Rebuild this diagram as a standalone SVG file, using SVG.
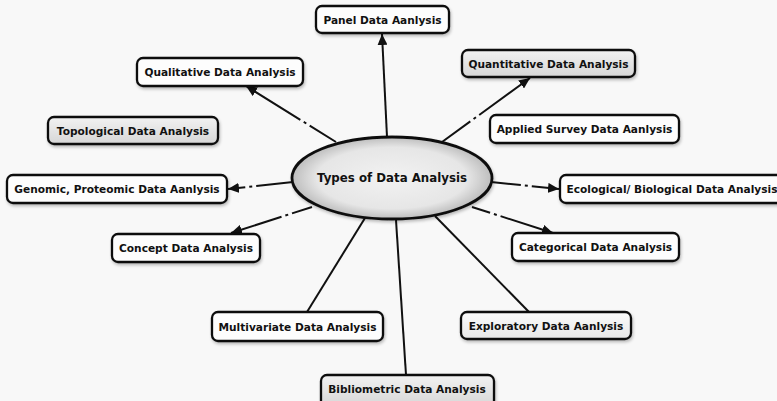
<svg xmlns="http://www.w3.org/2000/svg" width="777" height="401" viewBox="0 0 777 401">
  <defs>
    <style>
      .box { stroke: #111; stroke-width: 2.3; }
      .plain { fill: #fdfdfd; }
      .shaded { fill: url(#boxShade); }
      .light { fill: url(#boxLight); }
      .lbl { font-family: "DejaVu Sans", Verdana, sans-serif; font-weight: bold; font-size: 10.6px; fill: #111; text-anchor: middle; }
      .hub { font-size: 11.8px; }
      .link { fill: none; stroke: #111; stroke-width: 2; }
      .arrow { marker-end: url(#head); }
    </style>
    <linearGradient id="boxShade" x1="0" y1="0" x2="0" y2="1">
      <stop offset="0" stop-color="#f2f2f2"/>
      <stop offset="1" stop-color="#d6d6d6"/>
    </linearGradient>
    <linearGradient id="boxLight" x1="0" y1="0" x2="0" y2="1">
      <stop offset="0" stop-color="#fafafa"/>
      <stop offset="1" stop-color="#e8e8e8"/>
    </linearGradient>
    <radialGradient id="hubFill" cx="0.5" cy="0.5" r="0.5">
      <stop offset="0" stop-color="#f2f2f2"/>
      <stop offset="0.75" stop-color="#e6e6e6"/>
      <stop offset="1" stop-color="#bdbdbd"/>
    </radialGradient>
    <filter id="soft" x="-10%" y="-20%" width="120%" height="150%">
      <feDropShadow dx="1" dy="2" stdDeviation="1.5" flood-color="#000" flood-opacity="0.25"/>
    </filter>
    <marker id="head" markerUnits="userSpaceOnUse" markerWidth="11" markerHeight="10" refX="11" refY="5" orient="auto">
      <path d="M0,0 L11,5 L0,10 z" fill="#111"/>
    </marker>
  </defs>

  <rect width="777" height="401" fill="#f8f8f8"/>

  <!-- connectors from the central concept -->
  <g id="connectors">
    <path class="link arrow" d="M387,137 L382,34"/>
    <path class="link arrow" d="M336,142 L246,86" stroke-dasharray="31 4 3 4 300"/>
    <path class="link arrow" d="M442,142 L530,78" stroke-dasharray="35 4 3 4 300"/>
    <path class="link arrow" d="M293,182 L228,189" stroke-dasharray="37 4 3 4 300"/>
    <path class="link arrow" d="M312,207 L231,233" stroke-dasharray="21 4 3 4 300"/>
    <path class="link arrow" d="M491,182 L559,189" stroke-dasharray="30 4 3 4 300"/>
    <path class="link arrow" d="M472,207 L553,233" stroke-dasharray="19 4 3 4 300"/>
    <path class="link" d="M365,218 L307,312"/>
    <path class="link" d="M396,220 Q401,300 406,375"/>
    <path class="link" d="M435,216 L529,312"/>
  </g>

  <g id="hub">
    <ellipse cx="392" cy="178" rx="100" ry="41" fill="url(#hubFill)" stroke="#111" stroke-width="2.8" filter="url(#soft)"/>
    <text class="lbl hub" x="392" y="182">Types of Data Analysis</text>
  </g>

  <g id="panel">
    <rect class="box plain" x="316" y="6" width="133" height="27" rx="6" filter="url(#soft)"/>
    <text class="lbl" x="382.5" y="23.5">Panel Data Aanlysis</text>
  </g>
  <g id="qualitative">
    <rect class="box plain" x="137" y="58" width="166" height="28" rx="6" filter="url(#soft)"/>
    <text class="lbl" x="220" y="76">Qualitative Data Analysis</text>
  </g>
  <g id="topological">
    <rect class="box shaded" x="48" y="117" width="170" height="27" rx="6" filter="url(#soft)"/>
    <text class="lbl" x="133" y="134.5">Topological Data Analysis</text>
  </g>
  <g id="quantitative">
    <rect class="box shaded" x="462" y="50" width="173" height="27" rx="6" filter="url(#soft)"/>
    <text class="lbl" x="548.5" y="67.5">Quantitative Data Analysis</text>
  </g>
  <g id="applied-survey">
    <rect class="box plain" x="490" y="115" width="189" height="28" rx="6" filter="url(#soft)"/>
    <text class="lbl" x="584.5" y="133">Applied Survey Data Aanlysis</text>
  </g>
  <g id="genomic">
    <rect class="box plain" x="7" y="175" width="220" height="28" rx="6" filter="url(#soft)"/>
    <text class="lbl" x="117" y="193">Genomic, Proteomic Data Aanlysis</text>
  </g>
  <g id="ecological">
    <rect class="box plain" x="560" y="175" width="230" height="28" rx="6" filter="url(#soft)"/>
    <text class="lbl" x="672" y="193">Ecological/ Biological Data Analysis</text>
  </g>
  <g id="concept">
    <rect class="box plain" x="112" y="234" width="148" height="28" rx="6" filter="url(#soft)"/>
    <text class="lbl" x="186" y="252">Concept Data Analysis</text>
  </g>
  <g id="categorical">
    <rect class="box plain" x="512" y="233" width="167" height="28" rx="6" filter="url(#soft)"/>
    <text class="lbl" x="595.5" y="251">Categorical Data Analysis</text>
  </g>
  <g id="multivariate">
    <rect class="box plain" x="212" y="312" width="171" height="29" rx="6" filter="url(#soft)"/>
    <text class="lbl" x="297.5" y="330.5">Multivariate Data Analysis</text>
  </g>
  <g id="exploratory">
    <rect class="box light" x="461" y="312" width="170" height="27" rx="6" filter="url(#soft)"/>
    <text class="lbl" x="546" y="329.5">Exploratory Data Aanlysis</text>
  </g>
  <g id="bibliometric">
    <rect class="box shaded" x="321" y="375" width="173" height="32" rx="6" filter="url(#soft)"/>
    <text class="lbl" x="407" y="393">Bibliometric Data Analysis</text>
  </g>
</svg>
